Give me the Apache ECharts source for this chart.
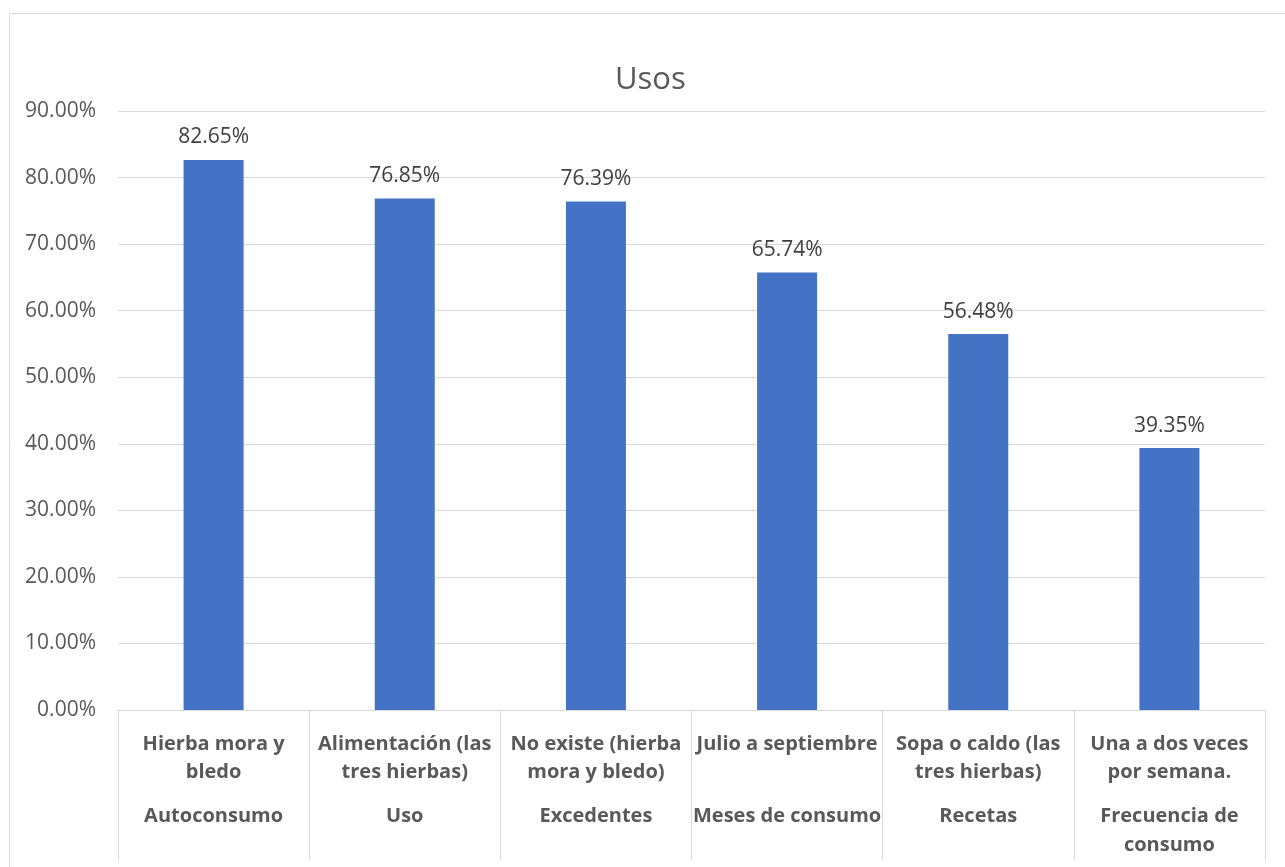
<!DOCTYPE html>
<html>
<head>
<meta charset="utf-8">
<script src="https://cdn.jsdelivr.net/npm/echarts@6/dist/echarts.min.js"></script>
<style>html,body{margin:0;padding:0;background:#fff}#c{width:1285px;height:867px}</style>
</head>
<body>
<div id="c"></div>
<script>
const categories = ["Hierba mora y\nbledo", "Alimentación (las\ntres hierbas)", "No existe (hierba\nmora y bledo)", "Julio a septiembre", "Sopa o caldo (las\ntres hierbas)", "Una a dos veces\npor semana."];
const groups = ["Autoconsumo", "Uso", "Excedentes", "Meses de consumo", "Recetas", "Frecuencia de\nconsumo"];
const values = [82.65, 76.85, 76.39, 65.74, 56.48, 39.35];
const yTicks = { min: 0, max: 90, interval: 10 };

const FONT = "Open Sans";
const chart = echarts.init(document.getElementById('c'), null, { renderer: 'canvas' });
chart.setOption({
  backgroundColor: '#fff',
  animation: false,
  textStyle: { fontFamily: FONT },
  graphic: [{
    type: 'rect', left: 7, top: 11, silent: true,
    shape: { width: 1300, height: 900 },
    style: { fill: 'none', stroke: '#d9d9d9', lineWidth: 1 }
  }, {
    type: 'text', left: 615, top: 65, silent: true,
    style: { text: 'Usos', fontFamily: FONT, fontSize: 31, fontWeight: 'normal', fill: '#595959' }
  }],
  grid: { left: 118, right: 20, top: 111, bottom: 157, containLabel: false },
  xAxis: [{
    type: 'category', data: categories, position: 'bottom',
    axisLine: { show: true, lineStyle: { color: '#d9d9d9', width: 1 } },
    axisTick: { show: true, interval: 0, alignWithLabel: false, length: 150, lineStyle: { color: '#d9d9d9' } },
    axisLabel: { interval: 0, margin: 20, fontFamily: FONT, fontSize: 20, fontWeight: 'bold', color: '#595959', lineHeight: 28 }
  }, {
    type: 'category', data: groups, position: 'bottom',
    axisLine: { show: false }, axisTick: { show: false },
    axisLabel: { interval: 0, margin: 92, fontFamily: FONT, fontSize: 20, fontWeight: 'bold', color: '#595959', lineHeight: 29 }
  }],
  yAxis: {
    type: 'value', min: yTicks.min, max: yTicks.max, interval: yTicks.interval,
    axisLine: { show: false }, axisTick: { show: false },
    splitLine: { lineStyle: { color: '#d9d9d9', width: 1 } },
    axisLabel: { formatter: v => v.toFixed(2) + '%', fontFamily: FONT, fontSize: 21, color: '#595959', margin: 22 }
  },
  series: [{
    type: 'bar', data: values, xAxisIndex: 0, barWidth: 60,
    itemStyle: { color: '#4472C4' },
    label: { show: true, position: 'top', distance: 12, formatter: p => p.value.toFixed(2) + '%',
      fontFamily: FONT, fontSize: 21, color: '#404040' }
  }]
});
</script>
</body>
</html>
